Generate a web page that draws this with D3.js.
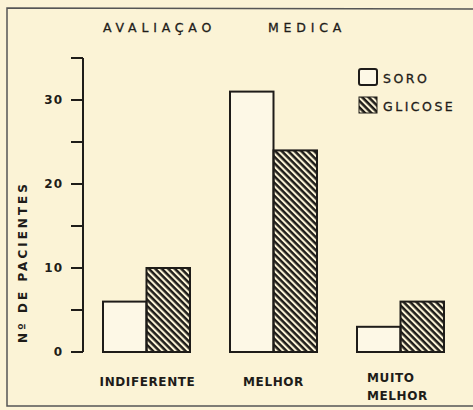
<!DOCTYPE html>
<html>
<head>
<meta charset="utf-8">
<script src="https://cdn.jsdelivr.net/npm/d3@7"></script>
<style>
  body { margin: 0; background: #fbf3d6; }
  svg { display: block; }
</style>
</head>
<body>
<div id="grafico"></div>
<script>
var categorias = ["INDIFERENTE", "MELHOR", "MUITO MELHOR"];
var series = ["SORO", "GLICOSE"];
var soro = [6, 31, 3];
var glicose = [10, 24, 6];
var ticksLabel = [0, 10, 20, 30];
var ticksMenor = [5, 15, 25];

var width = 473,
    height = 410;
var ink = "#1e1c19";

var svg = d3.select("#grafico").append("svg")
    .attr("width", width)
    .attr("height", height)
    .style("background-color", "#fbf3d6")
    .style("font-family", "'DejaVu Sans', sans-serif");

// hachura do glicose
var defs = svg.append("defs");
defs.append("pattern")
    .attr("id", "hatch")
    .attr("patternUnits", "userSpaceOnUse")
    .attr("width", 4.6)
    .attr("height", 4.6)
    .attr("patternTransform", "rotate(45)")
    .append("rect")
    .attr("x", 0)
    .attr("y", 0)
    .attr("width", 4.6)
    .attr("height", 2.5)
    .attr("fill", ink);

// moldura
svg.append("path")
    .attr("d", "M480,9 L7,8 L7,406 L480,406")
    .attr("fill", "none")
    .attr("stroke", "#555")
    .attr("stroke-width", 1.5);

var y = d3.scaleLinear().domain([0, 35]).range([352, 58]);

var x0 = d3.scaleBand()
    .domain(categorias)
    .range([103, 444])
    .paddingInner(0.315)
    .paddingOuter(0);
var x1 = d3.scaleBand()
    .domain(series)
    .range([0, x0.bandwidth()]);

var dados = categorias.map(function(c, i) {
    return { cat: c, valores: [
        { serie: "SORO", v: soro[i] },
        { serie: "GLICOSE", v: glicose[i] }
    ] };
});

// eixo
var eixo = svg.append("g");
eixo.append("line")
    .attr("x1", 83).attr("x2", 83)
    .attr("y1", y(35)).attr("y2", y(0))
    .attr("stroke", ink).attr("stroke-width", 2);
eixo.selectAll(".tk")
    .data(ticksLabel.concat(ticksMenor).concat([35]))
    .enter().append("line")
    .attr("x1", 71).attr("x2", 83)
    .attr("y1", function(d) { return y(d) })
    .attr("y2", function(d) { return y(d) })
    .attr("stroke", ink).attr("stroke-width", 2);
eixo.selectAll(".lbl")
    .data(ticksLabel)
    .enter().append("text")
    .attr("x", 63)
    .attr("y", function(d) { return y(d) + 4 })
    .attr("text-anchor", "end")
    .style("font-size", "12px")
    .style("font-weight", "bold")
    .style("letter-spacing", "1px")
    .style("fill", ink)
    .text(function(d) { return d });

svg.append("text")
    .attr("transform", "translate(27,262) rotate(-90)")
    .attr("text-anchor", "middle")
    .style("font-size", "12px")
    .style("font-weight", "bold")
    .style("letter-spacing", "3px")
    .style("fill", ink)
    .text("Nº DE PACIENTES");

// barras
var grupos = svg.append("g").selectAll("g")
    .data(dados)
    .enter().append("g")
    .attr("transform", function(d) { return "translate(" + x0(d.cat) + ",0)" });

grupos.selectAll("rect")
    .data(function(d) { return d.valores })
    .enter().append("rect")
    .attr("x", function(d) { return x1(d.serie) })
    .attr("y", function(d) { return y(d.v) })
    .attr("width", x1.bandwidth())
    .attr("height", function(d) { return y(0) - y(d.v) })
    .attr("fill", function(d) { return d.serie === "SORO" ? "#fdf8e6" : "url(#hatch)" })
    .attr("stroke", ink)
    .attr("stroke-width", 2);

// categorias
var catLbl = svg.append("g")
    .style("font-size", "12px")
    .style("font-weight", "bold")
    .style("letter-spacing", "0.6px")
    .style("fill", ink);
catLbl.append("text").attr("x", x0("INDIFERENTE") + x0.bandwidth() / 2 + 1).attr("y", 386).attr("text-anchor", "middle").text("INDIFERENTE");
catLbl.append("text").attr("x", x0("MELHOR") + x0.bandwidth() / 2).attr("y", 386).attr("text-anchor", "middle").text("MELHOR");
catLbl.append("text").attr("x", x0("MUITO MELHOR") + 10).attr("y", 382).text("MUITO");
catLbl.append("text").attr("x", x0("MUITO MELHOR") + 10).attr("y", 400).text("MELHOR");

// titulo
svg.append("text")
    .attr("x", 103)
    .attr("y", 32)
    .style("font-size", "12.5px")
    .style("letter-spacing", "4.8px")
    .style("fill", ink)
    .style("stroke", ink)
    .style("stroke-width", 0.3)
    .text("AVALIAÇAO");
svg.append("text")
    .attr("x", 268)
    .attr("y", 32)
    .style("font-size", "12.5px")
    .style("letter-spacing", "4.8px")
    .style("fill", ink)
    .style("stroke", ink)
    .style("stroke-width", 0.3)
    .text("MEDICA");

// legenda
var leg = svg.append("g");
series.forEach(function(s, i) {
    leg.append("rect")
        .attr("x", 359)
        .attr("y", 69 + i * 28)
        .attr("width", 18)
        .attr("height", 16)
        .attr("rx", i === 0 ? 2 : 0)
        .attr("fill", i === 0 ? "#fdf8e6" : "url(#hatch)")
        .attr("stroke", ink)
        .attr("stroke-width", i === 0 ? 2 : 1);
    leg.append("text")
        .attr("x", 383)
        .attr("y", 83 + i * 28)
        .style("font-size", "12.5px")
        .style("letter-spacing", "2.5px")
        .style("fill", ink)
        .style("stroke", ink)
        .style("stroke-width", 0.3)
        .text(s);
});
</script>
</body>
</html>
